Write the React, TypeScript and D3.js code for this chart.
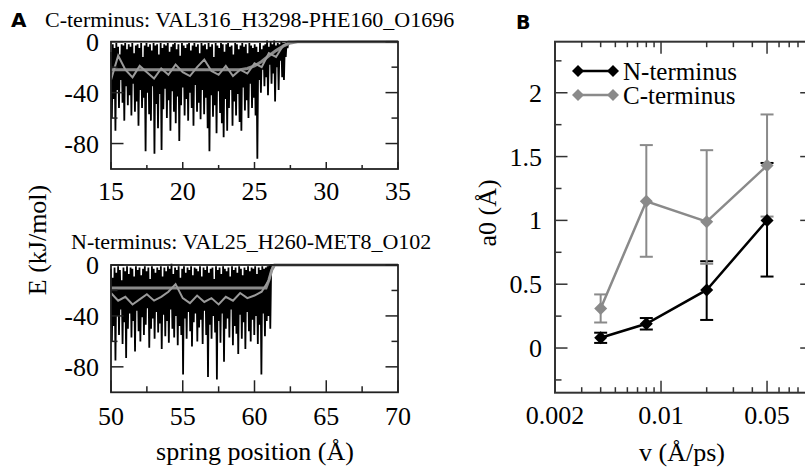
import React from "react";
import * as d3 from "d3";

// ---------- Panel A data ----------
const TOP_TITLE = "C-terminus: VAL316_H3298-PHE160_O1696";
const BOT_TITLE = "N-terminus: VAL25_H260-MET8_O102";
const TOP_X_TICKS = [15, 20, 25, 30, 35];
const TOP_X_MINOR = [17.5, 22.5, 27.5, 32.5];
const BOT_X_TICKS = [50, 55, 60, 65, 70];
const BOT_X_MINOR = [52.5, 57.5, 62.5, 67.5];
const E_TICKS = [0, -40, -80];
const E_MINOR = [-20, -60];

// raw energy trace (alternating local maxima / minima), C-terminus, spring 15 -> 27.3
const TOP_RANGE = [15, 27.3];
const TOP_END = 35;
const TOP_HI = [
  -8, -2, -5, -1, -4, -10, -2, -3, -1, -6,
  -2, -4, -1, -9, -3, -2, -5, -1, -12, -3,
  -1, -4, -2, -7, -1, -3, -2, -10, -1, -5,
  -2, -3, -1, -8, -4, -2, -1, -6, -2, -11,
  -1, -3, -5, -2, -1, -7, -3, -1, -4, -2,
  -9, -1, -3, -2, -6, -1, -4, -2, -12, -1,
  -3, -5, -1, -2, -8, -2, -1, -4, -3, -10,
  -1, -2, -6, -3, -1, -4, -2, -9, -1, -3,
  -5, -2, -4, -8, -1, -6, -3, -2, 1, -4,
  0, -2, 1, -3, -1, -2, 0, -1, -1, 0,
];
const TOP_LO = [
  -60, -45, -70, -38, -52, -30, -48, -62, -35, -50,
  -42, -58, -33, -55, -47, -66, -38, -52, -44, -86,
  -40, -57, -62, -35, -88, -49, -68, -41, -85, -53,
  -37, -60, -46, -70, -39, -55, -64, -43, -78, -50,
  -36, -58, -45, -62, -40, -52, -66, -34, -55, -48,
  -61, -38, -57, -44, -68, -86, -42, -59, -50, -72,
  -39, -56, -64, -75, -45, -70, -52, -38, -66, -47,
  -58, -41, -63, -70, -36, -54, -46, -60, -33, -52,
  -44, -58, -92, -30, -40, -22, -35, -28, -42, -18,
  -33, -25, -47, -20, -38, -15, -28, -30, -12, -5,
];
// running average & fit, C-terminus
const TOP_AVG_X = [15, 15.5, 16, 16.5, 17, 17.5, 18, 18.5, 19, 19.5, 20, 20.5, 21, 21.5, 22, 22.5, 23, 23.5, 24, 24.5, 25, 25.5, 26, 26.5, 27, 27.5];
const TOP_AVG_E = [-30, -11, -22, -28, -19, -24, -29, -21, -26, -18, -24, -27, -20, -14, -23, -26, -19, -27, -22, -25, -17, -20, -9, -12, -3, 0];
const TOP_FIT_X = [15, 24, 24.5, 25, 25.5, 26, 26.5, 27, 27.5, 28, 35];
const TOP_FIT_E = [-22, -22, -21, -19, -15.5, -11, -7, -3.5, -1, 0, 0];

// N-terminus, spring 50 -> 61.1
const BOT_RANGE = [50, 61.1];
const BOT_END = 70;
const BOT_HI = [
  -3, -10, -2, -6, -1, -4, -12, -2, -5, -1,
  -7, -2, -3, -9, -1, -4, -2, -8, -3, -1,
  -5, -2, -11, -1, -3, -6, -2, -4, -1, -9,
  -2, -5, -1, -3, 1, -7, -2, -4, -1, -10,
  -3, -1, -6, -2, -4, -1, -8, -2, -3, -5,
  -1, -9, -2, -4, -1, -6, -3, -2, -11, -1,
  -4, -2, -7, -1, -3, -5, -2, -9, -1, -4,
  -2, -6, -1, -3, -8, -2, -4, -1, -5, -2,
  -3, -1, -7, -2, -4, -1, -3, -2, -1, 0,
];
const BOT_LO = [
  -60, -48, -75, -40, -55, -35, -62, -45, -73, -50,
  -38, -57, -44, -68, -36, -52, -60, -41, -55, -47,
  -34, -65, -50, -42, -58, -37, -53, -46, -66, -39,
  -56, -44, -61, -35, -50, -57, -40, -63, -48, -55,
  -86, -42, -58, -37, -52, -64, -45, -38, -60, -49,
  -43, -62, -36, -55, -88, -47, -58, -40, -53, -90,
  -44, -61, -38, -76, -50, -42, -57, -35, -63, -48,
  -54, -70, -39, -58, -45, -66, -37, -52, -60, -43,
  -55, -40, -62, -47, -86, -38, -56, -44, -40, -50,
];
const BOT_AVG_X = [50, 50.5, 51, 51.5, 52, 52.5, 53, 53.5, 54, 54.5, 55, 55.5, 56, 56.5, 57, 57.5, 58, 58.5, 59, 59.5, 60, 60.5, 61, 61.3];
const BOT_AVG_E = [-22, -28, -25, -31, -27, -23, -28, -25, -21, -15, -26, -30, -24, -29, -26, -31, -25, -28, -22, -26, -24, -21, -12, 0];
const BOT_FIT_X = [50, 60.8, 61.0, 61.2, 61.4, 70];
const BOT_FIT_E = [-18, -18, -12, -4, 0, 0];

// ---------- Panel B data ----------
const SPEEDS = [0.004, 0.008, 0.02, 0.05];
const N_A0 = [0.08, 0.19, 0.455, 1.0];
const N_ERR_LO = [0.04, 0.045, 0.235, 0.44];
const N_ERR_HI = [0.04, 0.045, 0.225, 0.45];
const C_A0 = [0.31, 1.15, 0.99, 1.43];
const C_ERR_LO = [0.11, 0.435, 0.33, 0.4];
const C_ERR_HI = [0.11, 0.44, 0.56, 0.4];
const B_Y_TICKS = [0, 0.5, 1, 1.5, 2];
const B_Y_LABELS = ["0", "0.5", "1", "1.5", "2"];
const B_Y_MINOR = [-0.25, 0.25, 0.75, 1.25, 1.75, 2.25];
const B_X_LABELS = [0.002, 0.01, 0.05];
const B_X_LABEL_TEXT = ["0.002", "0.01", "0.05"];
const B_X_MAJOR = [0.01, 0.05];
const SERIES_NAMES = ["N-terminus", "C-terminus"];

const SERIF = "'Liberation Serif', 'Times New Roman', serif";
const SANS = "'DejaVu Sans', 'Liberation Sans', sans-serif";
const GRAY = "#8a8a8a";

function trace(range: number[], hi: number[], lo: number[], end: number): [number, number][] {
  const n = hi.length * 2;
  const step = (range[1] - range[0]) / (n - 1);
  const pts: [number, number][] = [];
  for (let i = 0; i < hi.length; i++) {
    pts.push([range[0] + 2 * i * step, hi[i]]);
    pts.push([range[0] + (2 * i + 1) * step, lo[i]]);
  }
  pts.push([range[1] + step, 0]);
  pts.push([end, 0]);
  return pts;
}

function diamond(cx: number, cy: number, r: number) {
  return `M${cx},${cy - r}L${cx + r},${cy}L${cx},${cy + r}L${cx - r},${cy}Z`;
}

function PanelA(props: {
  top: number; bottom: number; title: string; titleX: number; titleY: number;
  xTicks: number[]; xMinor: number[]; labelY: number; majorX: number; minorX: number;
  range: number[]; hi: number[]; lo: number[]; end: number;
  avgX: number[]; avgE: number[]; fitX: number[]; fitE: number[];
}) {
  const left = 111, right = 398;
  const x = d3.scaleLinear().domain([props.xTicks[0], props.xTicks[props.xTicks.length - 1]]).range([left, right]);
  const y = d3.scaleLinear().domain([-100, 0]).range([props.bottom, props.top]);
  const line = d3.line<[number, number]>().x(d => x(d[0])).y(d => y(d[1]));
  const raw = trace(props.range, props.hi, props.lo, props.end);
  const avg = props.avgX.map((v, i) => [v, props.avgE[i]] as [number, number]);
  const fit = props.fitX.map((v, i) => [v, props.fitE[i]] as [number, number]);
  return (
    <g>
      <text x={props.titleX} y={props.titleY} fontFamily={SERIF} fontSize={22}>{props.title}</text>
      <path d={line(raw) || ""} fill="none" stroke="#000" strokeWidth={1.8} strokeLinejoin="miter" strokeMiterlimit={2} />
      <path d={line(fit) || ""} fill="none" stroke={GRAY} strokeWidth={3} />
      <path d={line(avg) || ""} fill="none" stroke="#9a9a9a" strokeWidth={2} />
      <rect x={left} y={props.top} width={right - left} height={props.bottom - props.top} fill="none" stroke="#222" strokeWidth={1.8} />
      {E_TICKS.map(t => (
        <g key={"m" + t}>
          <line x1={left} x2={left + 12.5} y1={y(t)} y2={y(t)} stroke="#222" strokeWidth={1.5} />
          <line x1={right} x2={right - 12.5} y1={y(t)} y2={y(t)} stroke="#222" strokeWidth={1.5} />
          <text x={99} y={y(t)} dy="0.35em" textAnchor="end" fontFamily={SERIF} fontSize={26}>{t}</text>
        </g>
      ))}
      {E_MINOR.map(t => (
        <g key={"n" + t}>
          <line x1={left} x2={left + 6.5} y1={y(t)} y2={y(t)} stroke="#222" strokeWidth={1.5} />
          <line x1={right} x2={right - 6.5} y1={y(t)} y2={y(t)} stroke="#222" strokeWidth={1.5} />
        </g>
      ))}
      {props.xTicks.map(t => (
        <g key={"x" + t}>
          <line x1={x(t)} x2={x(t)} y1={props.bottom} y2={props.bottom - props.majorX} stroke="#222" strokeWidth={1.5} />
          <text x={x(t)} y={props.labelY} textAnchor="middle" fontFamily={SERIF} fontSize={26}>{t}</text>
        </g>
      ))}
      {props.xMinor.map(t => (
        <line key={"xm" + t} x1={x(t)} x2={x(t)} y1={props.bottom} y2={props.bottom - props.minorX} stroke="#222" strokeWidth={1.5} />
      ))}
    </g>
  );
}

function PanelB() {
  const x = d3.scaleLog().domain([0.002, 0.1]).range([555, 812.7]);
  const y = d3.scaleLinear().domain([-0.35, 2.4]).range([392.7, 41.7]);
  const [x0, x1] = x.range();
  const [yb, yt] = y.range();
  const majorSet = new Set(B_X_MAJOR.map(v => +v.toPrecision(3)));
  const minorX = x.ticks().filter(t => !majorSet.has(+t.toPrecision(3)) && t > 0.002 && t < 0.1);
  const line = d3.line<number>().x((_, i) => x(SPEEDS[i])).y(d => y(d));
  const ax = "#333";
  const errBars = (vals: number[], lo: number[], hi: number[], color: string) =>
    SPEEDS.map((s, i) => {
      const cx = x(s);
      const a = y(vals[i] - lo[i]);
      const b = y(vals[i] + hi[i]);
      return (
        <g key={color + i} stroke={color} strokeWidth={2}>
          <line x1={cx} x2={cx} y1={a} y2={b} />
          <line x1={cx - 6.5} x2={cx + 6.5} y1={a} y2={a} />
          <line x1={cx - 6.5} x2={cx + 6.5} y1={b} y2={b} />
        </g>
      );
    });
  return (
    <g>
      <rect x={x0} y={yt} width={x1 - x0} height={yb - yt} fill="none" stroke={ax} strokeWidth={2} />
      {B_Y_TICKS.map((t, i) => (
        <g key={"by" + t}>
          <line x1={x0} x2={x0 + 12.5} y1={y(t)} y2={y(t)} stroke={ax} strokeWidth={1.5} />
          <line x1={x1} x2={x1 - 12.5} y1={y(t)} y2={y(t)} stroke={ax} strokeWidth={1.5} />
          <text x={542} y={y(t)} dy="0.35em" textAnchor="end" fontFamily={SERIF} fontSize={26}>{B_Y_LABELS[i]}</text>
        </g>
      ))}
      {B_Y_MINOR.map(t => (
        <g key={"bym" + t}>
          <line x1={x0} x2={x0 + 6.5} y1={y(t)} y2={y(t)} stroke={ax} strokeWidth={1.5} />
          <line x1={x1} x2={x1 - 6.5} y1={y(t)} y2={y(t)} stroke={ax} strokeWidth={1.5} />
        </g>
      ))}
      {B_X_MAJOR.map(t => (
        <g key={"bx" + t}>
          <line x1={x(t)} x2={x(t)} y1={yb} y2={yb - 12} stroke={ax} strokeWidth={1.5} />
          <line x1={x(t)} x2={x(t)} y1={yt} y2={yt + 12} stroke={ax} strokeWidth={1.5} />
        </g>
      ))}
      {minorX.map(t => (
        <g key={"bxm" + t}>
          <line x1={x(t)} x2={x(t)} y1={yb} y2={yb - 5.5} stroke={ax} strokeWidth={1.5} />
          <line x1={x(t)} x2={x(t)} y1={yt} y2={yt + 5.5} stroke={ax} strokeWidth={1.5} />
        </g>
      ))}
      {B_X_LABELS.map((t, i) => (
        <text key={"bxl" + t} x={x(t)} y={424} textAnchor="middle" fontFamily={SERIF} fontSize={26}>{B_X_LABEL_TEXT[i]}</text>
      ))}
      {errBars(N_A0, N_ERR_LO, N_ERR_HI, "#000")}
      {errBars(C_A0, C_ERR_LO, C_ERR_HI, GRAY)}
      <path d={line(C_A0) || ""} fill="none" stroke={GRAY} strokeWidth={2.5} />
      <path d={line(N_A0) || ""} fill="none" stroke="#000" strokeWidth={2.5} />
      {C_A0.map((v, i) => <path key={"cm" + i} d={diamond(x(SPEEDS[i]), y(v), 6.5)} fill={GRAY} />)}
      {N_A0.map((v, i) => <path key={"nm" + i} d={diamond(x(SPEEDS[i]), y(v), 6.5)} fill="#000" />)}
      {/* legend */}
      {SERIES_NAMES.map((name, i) => {
        const ly = i === 0 ? 71 : 95;
        const c = i === 0 ? "#000" : GRAY;
        return (
          <g key={name}>
            <line x1={578} x2={613} y1={ly} y2={ly} stroke={c} strokeWidth={2.5} />
            <path d={diamond(578, ly, 6)} fill={c} />
            <path d={diamond(613, ly, 6)} fill={c} />
            <text x={623} y={ly + 8.5} fontFamily={SERIF} fontSize={25}>{name}</text>
          </g>
        );
      })}
      <text x={682} y={461} textAnchor="middle" fontFamily={SERIF} fontSize={26}>v (Å/ps)</text>
      <text transform="translate(496,213) rotate(-90)" textAnchor="middle" fontFamily={SERIF} fontSize={26}>a0 (Å)</text>
      <text x={516} y={29} fontFamily={SANS} fontWeight="bold" fontSize={19}>B</text>
    </g>
  );
}

export default function App() {
  return (
    <svg width={805} height={468} style={{ position: "absolute", left: 0, top: 0, background: "#fff" }}>
      <rect width={805} height={468} fill="#fff" />
      <text x={11} y={27} fontFamily={SANS} fontWeight="bold" fontSize={20}>A</text>
      <PanelA top={41.7} bottom={169} title={TOP_TITLE} titleX={45} titleY={26.5}
        xTicks={TOP_X_TICKS} xMinor={TOP_X_MINOR} labelY={200} majorX={7} minorX={4}
        range={TOP_RANGE} hi={TOP_HI} lo={TOP_LO} end={TOP_END}
        avgX={TOP_AVG_X} avgE={TOP_AVG_E} fitX={TOP_FIT_X} fitE={TOP_FIT_E} />
      <PanelA top={265} bottom={392.3} title={BOT_TITLE} titleX={71} titleY={248.5}
        xTicks={BOT_X_TICKS} xMinor={BOT_X_MINOR} labelY={425} majorX={12} minorX={6}
        range={BOT_RANGE} hi={BOT_HI} lo={BOT_LO} end={BOT_END}
        avgX={BOT_AVG_X} avgE={BOT_AVG_E} fitX={BOT_FIT_X} fitE={BOT_FIT_E} />
      <text transform="translate(46,240) rotate(-90)" textAnchor="middle" fontFamily={SERIF} fontSize={26}>E (kJ/mol)</text>
      <text x={255} y={460} textAnchor="middle" fontFamily={SERIF} fontSize={26}>spring position (Å)</text>
      <PanelB />
    </svg>
  );
}
